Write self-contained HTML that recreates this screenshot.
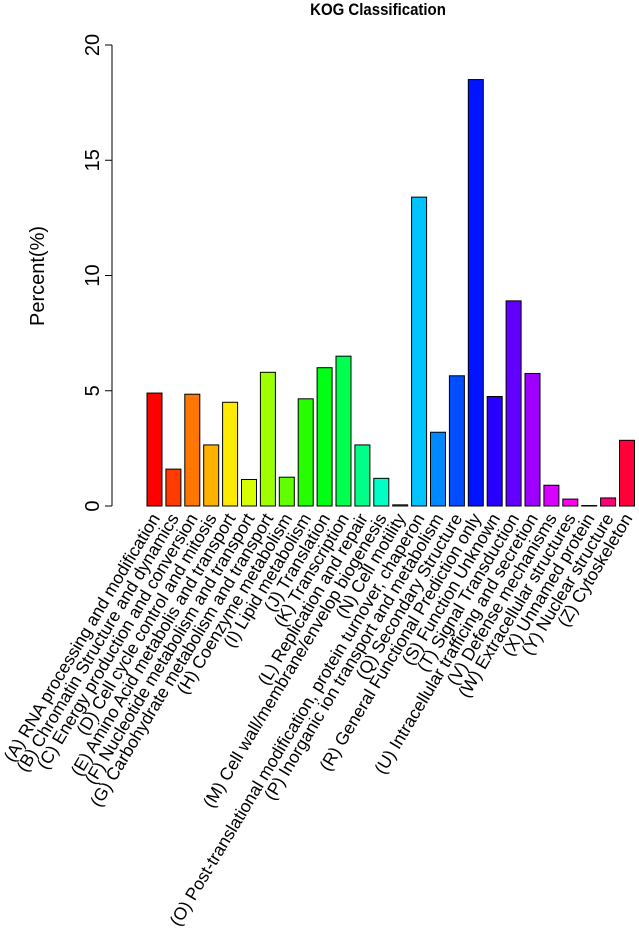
<!DOCTYPE html>
<html><head><meta charset="utf-8"><style>body{margin:0;background:#fff}svg{display:block;font-family:"Liberation Sans",sans-serif}</style></head>
<body>
<svg id="c" width="639" height="933"></svg>
<script>
const categories=["(A) RNA processing and modification","(B) Chromatin Structure and dynamics","(C) Energy production and conversion","(D) Cell cycle control and mitosis","(E) Amino Acid metabolis and transport","(F) Nucleotide metabolism and transport","(G) Carbohydrate metabolism and transport","(H) Coenzyme metabolism","(I) Lipid metabolism","(J) Translation","(K) Transcription","(L) Replication and repair","(M) Cell wall/membrane/envelop biogenesis","(N) Cell motility","(O) Post-translational modification, protein turnover, chaperon","(P) Inorganic ion transport and metabolism","(Q) Secondary Structure","(R) General Functional Prediction only","(S) Function Unknown","(T) Signal Transduction","(U) Intracellular trafficing and secretion","(V) Defense mechanisms","(W) Extracellular structures","(X) Unnamed protein","(Y) Nuclear structure","(Z) Cytoskeleton"];
const values=[4.9,1.6,4.85,2.65,4.5,1.15,5.8,1.25,4.65,6.0,6.5,2.65,1.2,0.05,13.4,3.2,5.65,18.5,4.75,8.9,5.75,0.9,0.3,0.02,0.35,2.85];
const yTicks=[0,5,10,15,20];
const NS="http://www.w3.org/2000/svg";
const svg=document.getElementById('c');
const y=v=>506-v*(461/20);
const x=i=>154.5+i*18.9;
function mk(t,a){const e=document.createElementNS(NS,t);for(const k in a)e.setAttribute(k,a[k]);svg.appendChild(e);return e;}
const title=mk('text',{x:0,y:0,'text-anchor':'middle','font-size':15,'font-weight':'bold',transform:'translate(378,15) scale(1,1.1)'});
title.textContent='KOG Classification';


const ax=mk('line',{x1:112,x2:112,y1:y(20),y2:y(0),stroke:'#000','stroke-width':1});


yTicks.forEach(t=>{
 const tk=mk('line',{x1:105,x2:112,y1:y(t),y2:y(t),stroke:'#000'});
 
 
 const tl=mk('text',{x:0,y:0,'text-anchor':'middle','font-size':20,transform:`translate(99,${y(t)}) rotate(-90)`});
 tl.textContent=t;
 
 
});
const yt=mk('text',{x:0,y:0,'text-anchor':'middle','font-size':20,transform:'translate(44,276) rotate(-90)'});
yt.textContent='Percent(%)';


values.forEach((v,i)=>{
 const b=mk('rect',{x:x(i)-7.5,y:y(v),width:15,height:y(0)-y(v),fill:`hsl(${i*360/26},100%,50%)`,stroke:'#000','stroke-width':1});
 
 
 const l=mk('text',{x:0,y:0,'text-anchor':'end','font-size':17.5,transform:`translate(${x(i)+6},${518}) rotate(-59)`});
 l.textContent=categories[i];
 
 
});
</script>
</body></html>
